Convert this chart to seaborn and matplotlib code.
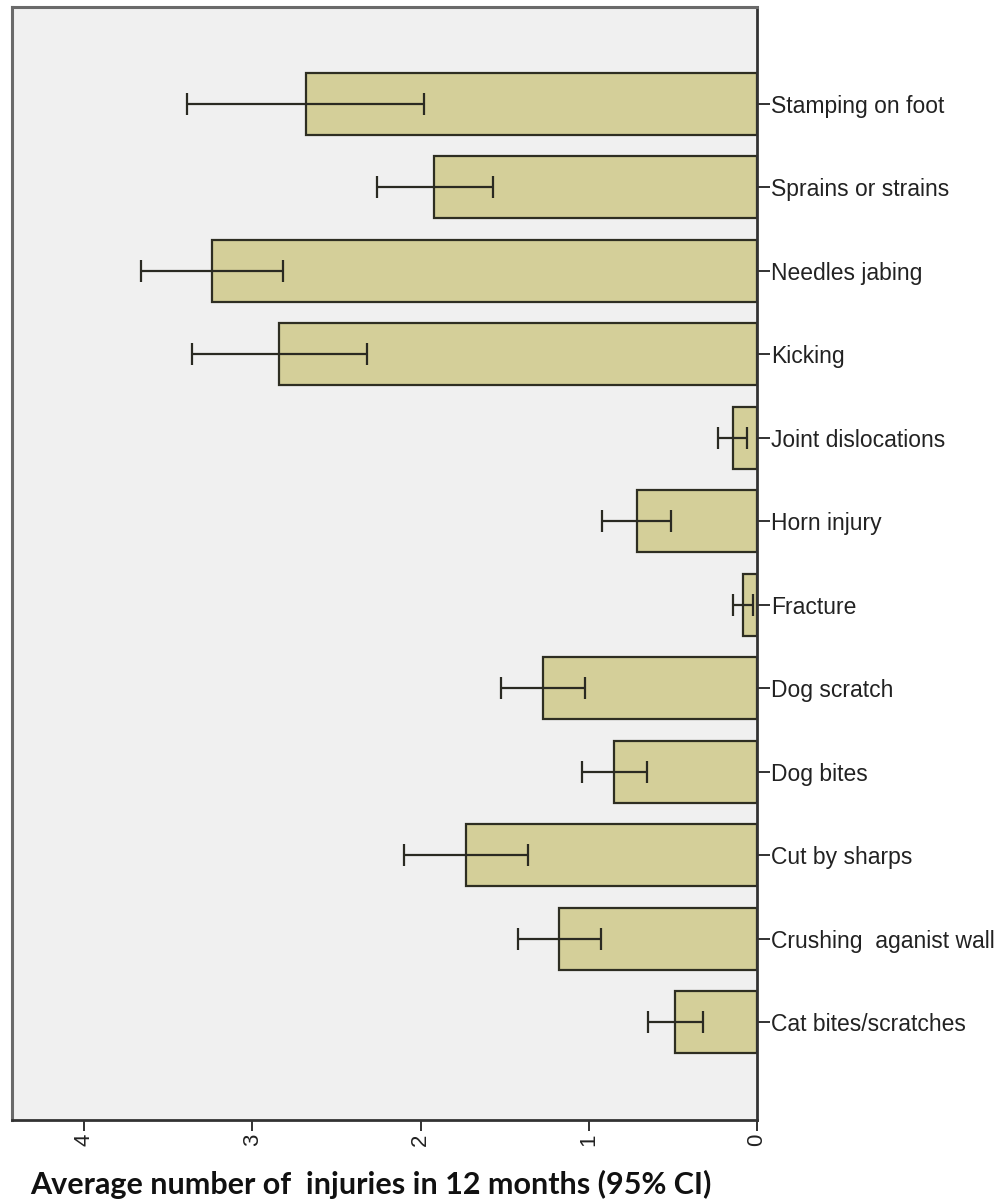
import matplotlib
matplotlib.use("Agg")
import matplotlib.pyplot as plt
import seaborn as sns
import pandas as pd
import numpy as np

categories = ["Stamping on foot", "Sprains or strains", "Needles jabing", "Kicking",
              "Joint dislocations", "Horn injury", "Fracture", "Dog scratch",
              "Dog bites", "Cut by sharps", "Crushing  aganist wall", "Cat bites/scratches"]
means = [2.68, 1.92, 3.24, 2.84, 0.145, 0.715, 0.083, 1.27, 0.85, 1.73, 1.18, 0.485]
ci_low = [1.98, 1.57, 2.82, 2.32, 0.06, 0.51, 0.024, 1.02, 0.655, 1.36, 0.93, 0.32]
ci_high = [3.39, 2.26, 3.66, 3.36, 0.23, 0.92, 0.14, 1.52, 1.04, 2.10, 1.42, 0.65]
x_ticks = [0, 1, 2, 3, 4]
x_label = "Average number of  injuries in 12 months (95% CI)"

df = pd.DataFrame({"category": categories, "mean": means,
                   "low": ci_low, "high": ci_high})

sns.set_theme(style="white")
plt.rcParams['font.family'] = ['Liberation Sans', 'DejaVu Sans']

fig = plt.figure(figsize=(10.08, 12.02), dpi=100)
ax = fig.add_axes([12/1008, 1 - 1120/1202, (757 - 12)/1008, (1120 - 7)/1202])
ax.set_facecolor('#f0f0f0')

sns.barplot(data=df, x="mean", y="category", order=categories, orient="h",
            color='#d4cf99', saturation=1, width=0.74, edgecolor='#2e2e22',
            linewidth=1.6, errorbar=None, ax=ax)

ypos = np.arange(len(categories))
xerr = np.array([df["mean"] - df["low"], df["high"] - df["mean"]])
ax.errorbar(df["mean"], ypos, xerr=xerr, fmt='none', ecolor='#2a2a22',
            elinewidth=1.6, capsize=8, capthick=1.6, zorder=5)

ax.set_xlim(4.43, 0)
ax.set_ylim(len(categories) - 1 + 1.17, -1.16)
ax.set_xticks(x_ticks)
ax.set_xticklabels([str(t) for t in x_ticks], rotation=90, fontsize=16, color='#222222')
ax.yaxis.tick_right()
ax.yaxis.set_label_position("right")
ax.set_ylabel("")
ax.set_xlabel("")
ax.tick_params(axis='y', which='both', right=True, left=False, length=9, width=1.3,
               pad=1, labelsize=16.5, colors='#222222', labelcolor='#222222')
ax.tick_params(axis='x', which='both', bottom=True, length=8, width=1.3, pad=2,
               colors='#222222')
for lab in ax.get_yticklabels():
    lab.set_color('#222222')

for side in ['left', 'top']:
    ax.spines[side].set_color('#6a6a6a')
    ax.spines[side].set_linewidth(2.2)
for side in ['right', 'bottom']:
    ax.spines[side].set_color('#333333')
    ax.spines[side].set_linewidth(2.0)
    ax.spines[side].set_visible(True)

fig.text(30/1008, 1 - 1184/1202, x_label, fontsize=22, fontweight='bold',
         family=['Lato', 'DejaVu Sans'], ha='left', va='center', color='#111111')

fig.savefig("out.png", dpi=100, facecolor='white')
